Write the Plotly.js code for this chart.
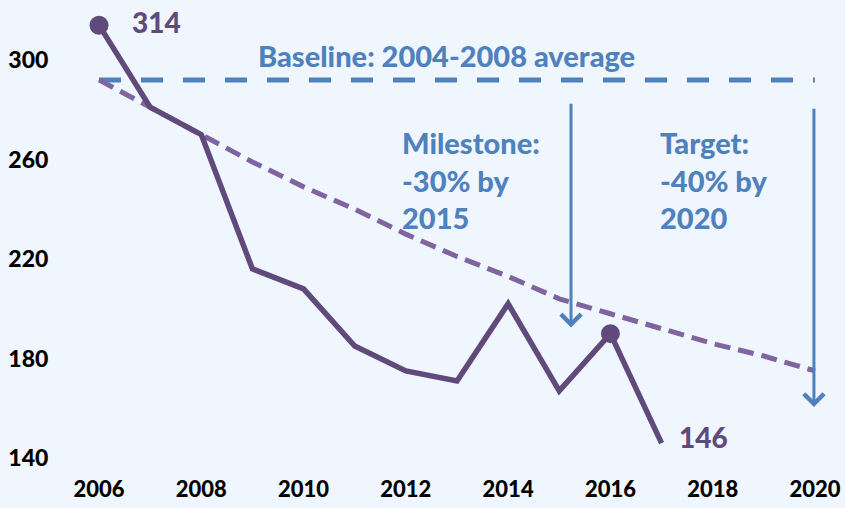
<!DOCTYPE html>
<html>
<head>
<meta charset="utf-8">
<script src="https://cdn.plot.ly/plotly-3.0.1.min.js"></script>
<style>html,body{margin:0;padding:0;background:#eff6fd;}</style>
</head>
<body>
<div id="chart" style="width:845px;height:508px;"></div>
<script>
// Actual emissions
var years = [2006, 2007, 2008, 2009, 2010, 2011, 2012, 2013, 2014, 2015, 2016, 2017];
var values = [314, 281, 270, 216, 208, 185, 175, 171, 202, 167, 190, 146];
// Reduction trajectory
var trajYears = [2006, 2007, 2008, 2009, 2010, 2011, 2012, 2013, 2014, 2015, 2016, 2017, 2018, 2019, 2020];
var trajValues = [292, 281, 270, 259, 249, 240, 230, 221, 213, 204, 198, 192, 186, 181, 175];
// Baseline
var baselineYears = [2006, 2020];
var baselineValues = [292, 292];
// Highlighted points
var markYears = [2006, 2016];
var markValues = [314, 190];
// Milestone / target arrows
var arrowYears = [2015.23, 2019.98];
var arrowFrom = [283, 281];
var arrowTo = [192.5, 160.5];
var xTicks = [2006, 2008, 2010, 2012, 2014, 2016, 2018, 2020];
var yTicks = [140, 180, 220, 260, 300];

var purple = '#604a7b';
var lightPurple = '#8064a2';
var blue = '#4f81bd';
var fontFam = 'Lato, "Open Sans", sans-serif';

var traces = [
  {x: baselineYears, y: baselineValues, mode: 'lines', line: {color: blue, width: 5, dash: '22px,20px'}, hoverinfo: 'skip'},
  {x: trajYears, y: trajValues, mode: 'lines', line: {color: lightPurple, width: 5, dash: '16px,8px'}, hoverinfo: 'skip'},
  {x: years, y: values, mode: 'lines', line: {color: purple, width: 5.5}},
  {x: markYears, y: markValues, mode: 'markers', marker: {color: purple, size: 19}}
];

var annotations = [
  {x: 2006.6, y: 315.3, xref: 'x', yref: 'y', text: String(values[0]), showarrow: false, xanchor: 'left', yanchor: 'middle', font: {family: fontFam, size: 28, color: purple, weight: 900}},
  {x: 2017.3, y: 148.4, xref: 'x', yref: 'y', text: String(values[values.length - 1]), showarrow: false, xanchor: 'left', yanchor: 'middle', font: {family: fontFam, size: 28, color: purple, weight: 900}},
  {x: 2012.8, y: 302, xref: 'x', yref: 'y', text: 'Baseline: 2004-2008 average', showarrow: false, xanchor: 'center', yanchor: 'middle', font: {family: fontFam, size: 29, color: blue, weight: 900}},
  {x: 2011.886, y: 251.6, xref: 'x', yref: 'y', text: 'Milestone:<br>-30% by<br>2015', showarrow: false, xanchor: 'left', yanchor: 'middle', align: 'left', font: {family: fontFam, size: 29, color: blue, weight: 900}},
  {x: 2016.93, y: 251.6, xref: 'x', yref: 'y', text: 'Target:<br>-40% by<br>2020', showarrow: false, xanchor: 'left', yanchor: 'middle', align: 'left', font: {family: fontFam, size: 29, color: blue, weight: 900}}
];
for (var i = 0; i < arrowYears.length; i++) {
  annotations.push({
    x: arrowYears[i], y: arrowTo[i], ax: arrowYears[i], ay: arrowFrom[i],
    xref: 'x', yref: 'y', axref: 'x', ayref: 'y', text: '',
    showarrow: true, arrowhead: 4, arrowsize: 1.3, arrowwidth: 3, arrowcolor: blue, standoff: 0
  });
}

var layout = {
  width: 845, height: 508,
  paper_bgcolor: '#eff6fd', plot_bgcolor: '#eff6fd',
  margin: {l: 60, r: 10, t: 10, b: 48},
  showlegend: false,
  font: {family: fontFam, color: '#000'},
  xaxis: {range: [2005.237, 2020.392], tickvals: xTicks, ticktext: xTicks.map(String), showgrid: false, zeroline: false, showline: false,
          ticks: 'outside', ticklen: 10, tickcolor: 'rgba(0,0,0,0)', tickfont: {family: fontFam, size: 22, color: '#000', weight: 900}},
  yaxis: {range: [139.2, 320.1], tickvals: yTicks, ticktext: yTicks.map(String), showgrid: false, zeroline: false, showline: false,
          ticks: 'outside', ticklen: 6, tickcolor: 'rgba(0,0,0,0)', tickfont: {family: fontFam, size: 23, color: '#000', weight: 900}},
  annotations: annotations
};

Plotly.newPlot('chart', traces, layout, {staticPlot: true});
</script>
</body>
</html>
